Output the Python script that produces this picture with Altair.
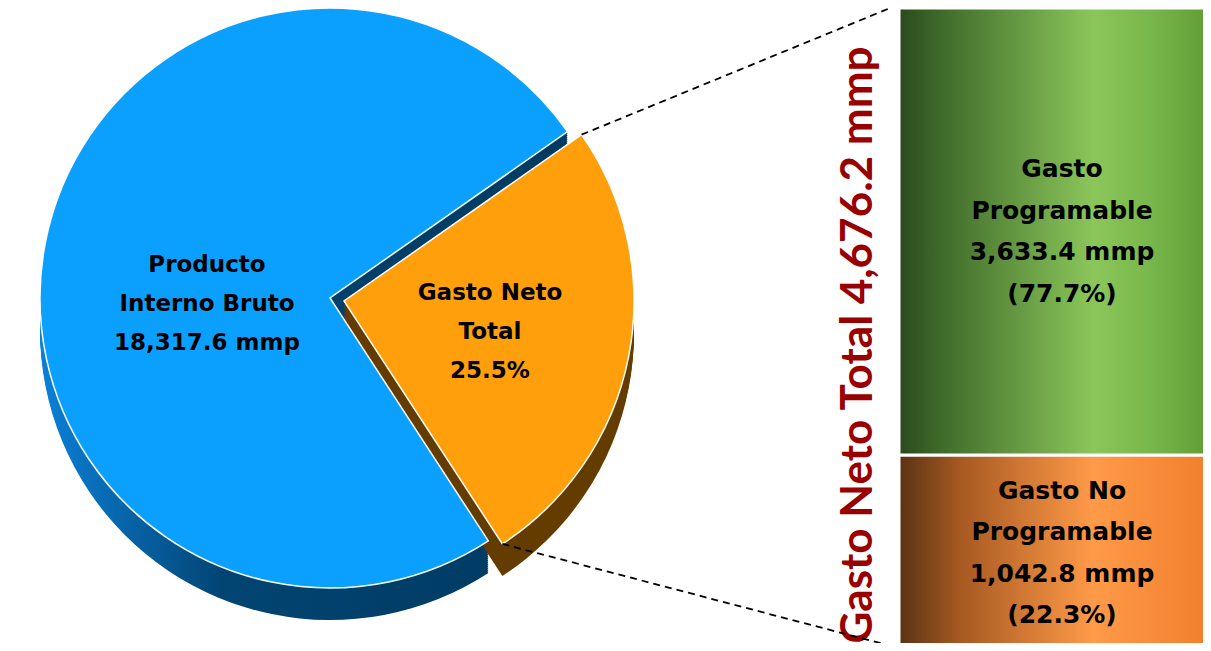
import math
import altair as alt
import pandas as pd

# ---------------- data ----------------
pib_total = 18317.6          # Producto Interno Bruto, mmp
gasto_total = 4676.2         # Gasto Neto Total, mmp
gasto_share = 25.5           # % of PIB

pie_cats = ["Gasto Neto Total", "Producto Interno Bruto"]
pie_vals = [gasto_total, pib_total - gasto_total]
pie_order = [0, 1]

bar_cats = ["Gasto No Programable", "Gasto Programable"]
bar_vals = [1042.8, 3633.4]
bar_pcts = [22.3, 77.7]
bar_order = [0, 1]

# ---------------- layout constants ----------------
W, H = 1195, 635
TITLE_FONT = "Lato"
LABEL_FONT = "DejaVu Sans"
R = 290
DEPTH = 32
BLUE_C = (322, 290)
ORANGE_C = (336, 293)
START_DEG = 55.0
BAR_X0, BAR_X1 = 891, W

pie_df = pd.DataFrame({"cat": pie_cats, "value": pie_vals, "ord": pie_order})
bar_df = pd.DataFrame({"cat": bar_cats, "value": bar_vals, "pct": bar_pcts, "ord": bar_order})

a0 = math.radians(START_DEG)
theta_scale = alt.Scale(domain=[0, pib_total], range=[a0, a0 + 2 * math.pi])


def grad(stops, horizontal=True):
    return alt.LinearGradient(
        gradient="linear",
        stops=[alt.GradientStop(offset=o, color=c) for o, c in stops],
        x1=0, y1=0, x2=1 if horizontal else 0, y2=0 if horizontal else 1,
    )


blue_top = "#0BA0FE"
orange_top = "#FF9F0B"
blue_side = grad([(0, "#0B80D8"), (0.35, "#024472"), (1, "#003A60")])
orange_side = "#643C00"


def pie_layer(cat, cx, cy, fill, stroke=None):
    mk = dict(radius=R, fill=fill)
    if stroke:
        mk.update(stroke=stroke, strokeWidth=1.5)
    return (
        alt.Chart(pie_df)
        .transform_window(t1="sum(value)", sort=[alt.SortField("ord")])
        .transform_calculate(t0="datum.t1 - datum.value")
        .transform_filter(alt.datum.cat == cat)
        .mark_arc(**mk)
        .encode(
            theta=alt.Theta("t0:Q", scale=theta_scale),
            theta2="t1:Q",
            x=alt.value(cx),
            y=alt.value(cy),
        )
    )


layers = []
for d in range(2, DEPTH + 1, 2):
    layers.append(pie_layer(pie_cats[1], BLUE_C[0], BLUE_C[1] + d, blue_side))
for d in range(2, DEPTH + 1, 2):
    layers.append(pie_layer(pie_cats[0], ORANGE_C[0], ORANGE_C[1] + d, orange_side))
layers.append(pie_layer(pie_cats[1], BLUE_C[0], BLUE_C[1], blue_top, stroke="white"))
layers.append(pie_layer(pie_cats[0], ORANGE_C[0], ORANGE_C[1], orange_top, stroke="white"))

# pie labels (3 lines each; dy centres the block on the anchor)
PIE_LH = 39
pie_lab_df = pd.DataFrame({
    "txt": [
        "Producto\nInterno Bruto\n" + f"{pib_total:,.1f} mmp",
        "Gasto Neto\nTotal\n" + f"{gasto_share:.1f}%",
    ],
    "px": [199, 482],
    "py": [296, 324],
})
for i in range(2):
    layers.append(
        alt.Chart(pie_lab_df.iloc[[i]])
        .mark_text(font=LABEL_FONT, fontWeight="bold", fontSize=23, lineBreak="\n",
                   lineHeight=PIE_LH, dy=-PIE_LH, align="center", baseline="middle", color="black")
        .encode(text="txt:N", x=alt.value(float(pie_lab_df.px[i])), y=alt.value(float(pie_lab_df.py[i])))
    )

# ---------------- stacked bar ----------------
# piecewise-linear scale (the reference panel is drawn with the lower block enlarged)
y_scale = alt.Scale(domain=[0, bar_vals[0], gasto_total], range=[643, 447, 0], nice=False, zero=True)
bar_fills = {
    bar_cats[1]: grad([(0, "#2B4A1C"), (0.15, "#426E2C"), (0.62, "#8BC65A"), (0.8, "#78B74B"), (1, "#5E9C34")]),
    bar_cats[0]: grad([(0, "#5A3214"), (0.2, "#A85A22"), (0.62, "#FF9A48"), (1, "#F07E2C")]),
}

bar_base = (
    alt.Chart(bar_df)
    .transform_window(y1="sum(value)", sort=[alt.SortField("ord")])
    .transform_calculate(y0="datum.y1 - datum.value")
)
for cat in bar_cats:
    layers.append(
        bar_base.transform_filter(alt.datum.cat == cat)
        .mark_rect(fill=bar_fills[cat], stroke="white", strokeWidth=3)
        .encode(
            x=alt.value(BAR_X0), x2=alt.value(BAR_X1 + 10),
            y=alt.Y("y0:Q", scale=y_scale, axis=None), y2="y1:Q",
        )
    )

BAR_LH = 41.5
bar_lab = []
for c, v, p in zip(bar_cats, bar_vals, bar_pcts):
    w = c.split(" ")
    first = " ".join(w[:-1])
    bar_lab.append(f"{first}\n{w[-1]}\n{v:,.1f} mmp\n({p:.1f}%)")
bar_df["lab"] = bar_lab
lab_base = (
    alt.Chart(bar_df)
    .transform_window(y1="sum(value)", sort=[alt.SortField("ord")])
    .transform_calculate(mid="datum.y1 - datum.value / 2")
)
layers.append(
    lab_base.mark_text(font=LABEL_FONT, fontWeight="bold", fontSize=25, lineBreak="\n",
                       lineHeight=BAR_LH, dy=-1.5 * BAR_LH, align="center", baseline="middle",
                       color="black")
    .encode(text="lab:N", x=alt.value(1054),
            y=alt.Y("mid:Q", scale=y_scale, axis=None))
)

# rotated title
title_df = pd.DataFrame({"t": [f"Gasto Neto Total {gasto_total:,.1f} mmp"]})
layers.append(
    alt.Chart(title_df)
    .mark_text(font=TITLE_FONT, fontWeight="bold", fontSize=44, angle=270, align="center",
               baseline="middle", color="#990000")
    .encode(text="t:N", x=alt.value(851), y=alt.value(337))
)

# dashed connector lines from the slice edges to the bar corners
a_end = a0 + 2 * math.pi * pie_vals[0] / pib_total
p_start = (ORANGE_C[0] + R * math.sin(a0), ORANGE_C[1] - R * math.cos(a0))
p_end = (ORANGE_C[0] + R * math.sin(a_end), ORANGE_C[1] - R * math.cos(a_end))
for (px, py), by in [(p_start, -2), (p_end, H + 4)]:
    layers.append(
        alt.Chart(pd.DataFrame({"k": [0]}))
        .mark_rule(color="black", strokeWidth=1.8, strokeDash=[7, 5])
        .encode(x=alt.value(px), y=alt.value(py), x2=alt.value(BAR_X0 - 4), y2=alt.value(by))
    )

chart = (
    alt.layer(*layers)
    .properties(width=W, height=H, padding=0, background="white",
                autosize=alt.AutoSizeParams(type="none"))
    .configure_view(stroke=None, strokeWidth=0)
)

chart.save("out.html", embed_options={"renderer": "svg", "actions": False})
